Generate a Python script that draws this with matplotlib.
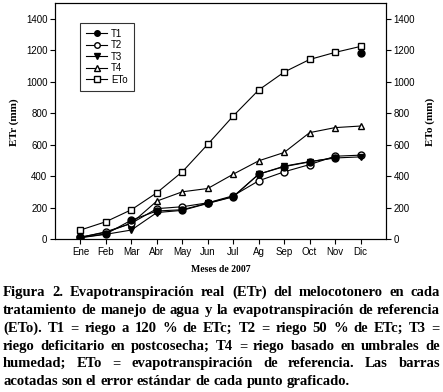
import numpy as np
import matplotlib
matplotlib.use("Agg")
from matplotlib import pyplot as plt

months = ["Ene", "Feb", "Mar", "Abr", "May", "Jun", "Jul", "Ag", "Sep", "Oct", "Nov", "Dic"]
t1 = [10, 32, 120, 178, 186, 228, 270, 412, 460, 490, 518, 1182]
t2 = [12, 42, 100, 193, 205, 230, 275, 370, 427, 473, 526, 533]
t3 = [8, 30, 57, 168, 182, 226, 268, 412, 463, 492, 515, 522]
t4 = [10, 46, 100, 241, 300, 321, 412, 497, 550, 676, 708, 718]
eto = [57, 110, 186, 294, 427, 602, 782, 947, 1061, 1141, 1186, 1224]
yticks = [0, 200, 400, 600, 800, 1000, 1200, 1400]

caption = [
    "Figura 2. Evapotranspiración real (ETr) del melocotonero en cada",
    "tratamiento de manejo de agua y la evapotranspiración de referencia",
    "(ETo). T1 = riego a 120 % de ETc; T2 = riego 50 % de ETc; T3 =",
    "riego deficitario en postcosecha; T4 = riego basado en umbrales de",
    "humedad; ETo = evapotranspiración de referencia. Las barras",
    "acotadas son el error estándar de cada punto graficado.",
]

W, H = 443, 392
fig = plt.figure(figsize=(W / 100, H / 100), dpi=100)
ax = fig.add_axes([55 / W, 1 - 239 / H, 331 / W, 236 / H])

x = np.arange(1, 13)
lw = 0.8
ms = 5
ax.plot(x, eto, color="black", lw=lw, marker="s", ms=ms, mfc="white", mec="black", label="ETo", zorder=3)
ax.plot(x, t4, color="black", lw=lw, marker="^", ms=ms, mfc="white", mec="black", label="T4", zorder=3)
ax.plot(x, t2, color="black", lw=lw, marker="o", ms=ms, mfc="white", mec="black", label="T2", zorder=3)
ax.plot(x, t3, color="black", lw=lw, marker="v", ms=ms, mfc="black", mec="black", label="T3", zorder=4)
ax.plot(x[:-1], t1[:-1], color="black", lw=lw, marker="o", ms=ms, mfc="black", mec="black", label="T1", zorder=4)
ax.plot(x[-1:], t1[-1:], color="black", lw=0, marker="o", ms=ms, mfc="black", mec="black", zorder=4)

ax.set_xlim(0, 13)
ax.set_ylim(0, 1500)
ax.set_xticks(x)
ax.set_xticklabels(months)
ax.set_yticks(yticks)
for sp in ax.spines.values():
    sp.set_linewidth(0.8)
ax.tick_params(labelsize=7, length=3.5, width=0.8, direction="out", pad=2)
for lab in ax.get_xticklabels() + ax.get_yticklabels():
    lab.set_family("Liberation Sans")

ax2 = ax.twinx()
ax2.set_ylim(0, 1500)
ax2.set_yticks(yticks)
ax2.tick_params(labelsize=7, length=3.5, width=0.8, direction="out", pad=2)
for lab in ax2.get_yticklabels():
    lab.set_family("Liberation Sans")

h, l = ax.get_legend_handles_labels()
order = ["T1", "T2", "T3", "T4", "ETo"]
hh = [h[l.index(o)] for o in order]
leg = ax.legend(hh, order, loc="upper left", bbox_to_anchor=(0.076, 0.915),
                prop={"family": "Liberation Sans", "size": 7}, frameon=True, fancybox=False,
                edgecolor="black", handlelength=2.2, handletextpad=0.4, labelspacing=0.15,
                borderpad=0.6, borderaxespad=0, markerscale=0.8)
leg.get_frame().set_linewidth(0.8)

serif = "Liberation Serif"
fig.text(14 / W, 1 - 122 / H, "ETr (mm)", rotation=90, ha="center", va="center",
         family=serif, weight="bold", fontsize=8)
fig.text(430 / W, 1 - 122 / H, "ETo (mm)", rotation=90, ha="center", va="center",
         family=serif, weight="bold", fontsize=8)
fig.text(221 / W, 1 - 270 / H, "Meses de 2007", ha="center", va="center",
         family=serif, weight="bold", fontsize=7)

# justified caption, word by word
renderer = fig.canvas.get_renderer()
left, right = 3, 440
fs = 10.5
baselines = [296, 314, 332, 350, 367, 385]
for i, line in enumerate(caption):
    words = line.split(" ")
    texts = [fig.text(0, 1 - baselines[i] / H, w, ha="left", va="baseline",
                      family=serif, weight="bold", fontsize=fs) for w in words]
    widths = [t.get_window_extent(renderer).width for t in texts]
    if i == len(caption) - 1:
        gap = fig.text(0, 0, "a a", family=serif, weight="bold", fontsize=fs)
        sp = gap.get_window_extent(renderer).width
        gap.remove()
        a = fig.text(0, 0, "aa", family=serif, weight="bold", fontsize=fs)
        sp -= a.get_window_extent(renderer).width
        a.remove()
    else:
        sp = (right - left - sum(widths)) / (len(words) - 1)
    xpos = left
    for t, w in zip(texts, widths):
        t.set_x(xpos / W)
        xpos += w + sp

fig.savefig("out.png", dpi=100)
